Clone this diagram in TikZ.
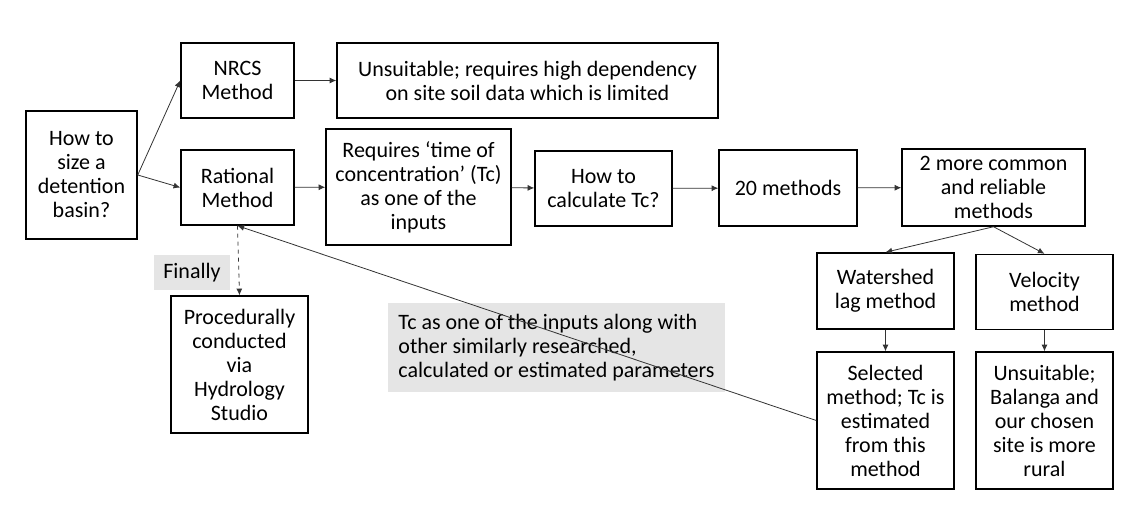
\documentclass[tikz,border=0pt]{standalone}
\usepackage{fontspec}
\setmainfont{Carlito}
\usepackage{tikz}
\usetikzlibrary{arrows.meta}

\begin{document}
\begin{tikzpicture}[
    x=0.75pt, y=-0.75pt,
    bx/.style={draw, line width=1.1pt, align=center, inner sep=1pt,
               font=\fontsize{16.5}{18}\selectfont},
    lbl/.style={fill=black!10, inner sep=1pt, font=\fontsize{16.5}{18}\selectfont},
    ln/.style={line width=0.6pt, black!80},
    >={Latex[length=5pt,width=4.5pt]}
]
\useasboundingbox (0,0) rectangle (1140,510);
\def\wS{102.75pt}   % small box width
\def\hS{56.25pt}    % one-row box height
\def\hT{102.75pt}   % tall box height

% first column
\node[bx, minimum width=83.25pt, minimum height=96pt] (q) at (81.5,175)
    {How to\\size a\\detention\\basin?};
\node[bx, minimum width=84.75pt, minimum height=\hS] (nrcs) at (237.5,80.5)
    {NRCS\\Method};
\node[bx, minimum width=84.75pt, minimum height=\hS] (rat) at (237.5,187.5)
    {Rational\\Method};
\node[bx, minimum width=\wS, minimum height=\hT] (hydro) at (239.5,364.5)
    {Procedurally\\conducted\\via\\Hydrology\\Studio};

% top branch
\node[bx, minimum width=285.75pt, minimum height=\hS] (nrcsno) at (527.5,80.5)
    {Unsuitable; requires high dependency\\on site soil data which is limited};

% main row
\node[bx, minimum width=138.75pt, minimum height=87pt] (reqtc) at (418.5,187)
    {Requires ‘time of\\concentration’ (Tc)\\as one of the\\inputs};
\node[bx, minimum width=\wS, minimum height=\hS] (calctc) at (603.5,188.5)
    {How to\\calculate Tc?};
\node[bx, minimum width=103.5pt, minimum height=57pt] (twenty) at (788,188)
    {20 methods};
\node[bx, minimum width=137.25pt, minimum height=57.75pt] (common) at (993.5,187.5)
    {2 more common\\and reliable\\methods};

% the two methods
\node[bx, minimum width=\wS, minimum height=57pt] (wlag) at (885.5,291)
    {Watershed\\lag method};
\node[bx, minimum width=\wS, minimum height=56.25pt] (vel) at (1044.5,292)
    {Velocity\\method};
\node[bx, minimum width=\wS, minimum height=\hT] (wsel) at (885.5,420.5)
    {Selected\\method; Tc is\\estimated\\from this\\method};
\node[bx, minimum width=\wS, minimum height=\hT] (velno) at (1044.5,420.5)
    {Unsuitable;\\Balanga and\\our chosen\\site is more\\rural};

% grey labels
\node[lbl, minimum width=57pt, minimum height=26.25pt] (fin) at (192,272.5) {Finally};
\node[lbl, minimum width=252.75pt, minimum height=66.75pt, align=left] (tcnote)
    at (556.5,347.5)
    {Tc as one of the inputs along with\\other similarly researched,\\calculated or estimated parameters};

% connectors
\draw[ln, ->] (q.east) -- (nrcs.west);
\draw[ln, ->] (q.east) -- (rat.west);
\draw[ln, ->] (nrcs) -- (nrcsno);
\draw[ln, ->] (rat) -- (reqtc);
\draw[ln, ->] (reqtc) -- (calctc);
\draw[ln, ->] (calctc) -- (twenty);
\draw[ln, ->] (twenty) -- (common);
\draw[ln, ->] (common.south) -- (wlag.north);
\draw[ln, ->] (common.south) -- (vel.north);
\draw[ln, ->] (wlag) -- (wsel);
\draw[ln, ->] (vel) -- (velno);
\draw[ln, ->] (wsel.west) -- (rat.south);
\draw[ln, ->, dashed] (rat.south) -- (hydro.north);

\end{tikzpicture}
\end{document}
